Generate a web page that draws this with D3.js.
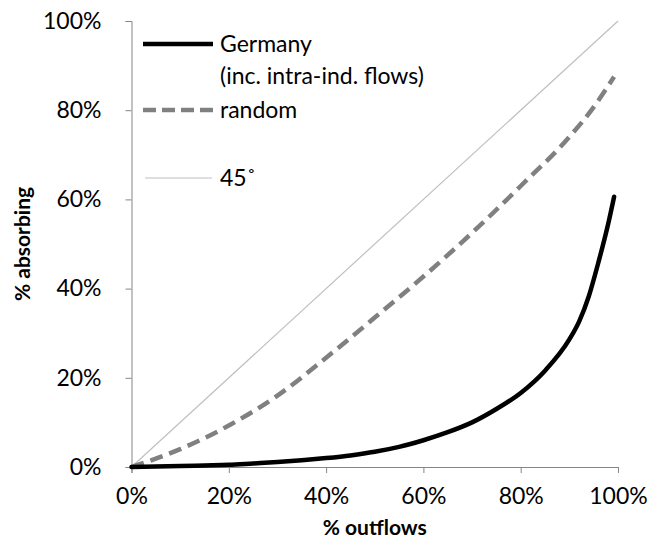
<!DOCTYPE html>
<html>
<head>
<meta charset="utf-8">
<script src="https://cdn.jsdelivr.net/npm/d3@7"></script>
<style>
  body { margin: 0; background: #fff; }
  text { font-family: Lato, "Open Sans", sans-serif; fill: #000; }
</style>
</head>
<body>
<div id="chart"></div>
<script>
// 曲線のデータ
const xGermany = [0, 5, 10, 15, 20, 25, 30, 35, 40, 45, 50, 55, 60, 65, 70, 75, 80, 85, 90, 92, 94, 96, 98, 99.2];
const yGermany = [0, 0.1, 0.2, 0.35, 0.5, 0.8, 1.1, 1.5, 2.0, 2.6, 3.4, 4.5, 6.0, 7.8, 10.0, 13.0, 16.6, 21.6, 28.6, 32.6, 38.3, 46, 54.6, 60.6];
const xRandom = [0, 10, 20, 30, 40, 50, 60, 70, 80, 90, 95, 99.2];
const yRandom = [0, 4, 9.3, 16, 24.5, 33.5, 42.7, 52.5, 63, 74, 80.7, 87.5];
const diagonal = [0, 100];
const tickValues = [0, 20, 40, 60, 80, 100];
const legendLabels = ['Germany', '(inc. intra-ind. flows)', 'random', '45˚'];

const width = 650, height = 544;
const margin = { top: 21, right: 32, bottom: 77, left: 131.5 };
const fontSize = '23px';

const svg = d3.select('#chart').append('svg')
    .attr('width', width)
    .attr('height', height);

const x = d3.scaleLinear().domain([0, 100]).range([margin.left, width - margin.right]);
const y = d3.scaleLinear().domain([0, 100]).range([height - margin.bottom, margin.top]);

const fmt = d => d + '%';

// 軸
const xAxis = svg.append('g')
    .attr('transform', `translate(0,${y(0)})`)
    .call(d3.axisBottom(x).tickValues(tickValues).tickFormat(fmt).tickSizeOuter(0).tickSize(6).tickPadding(15));
const yAxis = svg.append('g')
    .attr('transform', `translate(${x(0)},0)`)
    .call(d3.axisLeft(y).tickValues(tickValues).tickFormat(fmt).tickSizeOuter(0).tickSize(6).tickPadding(24));

[xAxis, yAxis].forEach(a => {
    a.select('.domain').attr('stroke', '#868686');
    a.selectAll('.tick line').attr('stroke', '#868686');
    a.selectAll('.tick text').style('font-size', fontSize).attr('fill', '#000');
});

// 45度線
const line = d3.line().x(d => x(d[0])).y(d => y(d[1]));
svg.append('path')
    .datum(diagonal.map(v => [v, v]))
    .attr('d', line)
    .attr('fill', 'none')
    .attr('stroke', '#bfbfbf')
    .attr('stroke-width', 1.2);

const smooth = d3.line().x(d => x(d[0])).y(d => y(d[1])).curve(d3.curveMonotoneX);

svg.append('path')
    .datum(xRandom.map((v, i) => [v, yRandom[i]]))
    .attr('d', smooth)
    .attr('fill', 'none')
    .attr('stroke', '#808080')
    .attr('stroke-width', 4.5)
    .attr('stroke-dasharray', '13,7');

svg.append('path')
    .datum(xGermany.map((v, i) => [v, yGermany[i]]))
    .attr('d', smooth)
    .attr('fill', 'none')
    .attr('stroke', '#000')
    .attr('stroke-width', 4.5)
    .attr('stroke-linecap', 'round');

// 凡例
const legend = svg.append('g');
legend.append('line').attr('x1', 143).attr('x2', 213).attr('y1', 44).attr('y2', 44)
    .attr('stroke', '#000').attr('stroke-width', 4.5);
legend.append('text').attr('x', 220).attr('y', 52).style('font-size', fontSize).text(legendLabels[0]);
legend.append('text').attr('x', 220).attr('y', 84).style('font-size', fontSize).text(legendLabels[1]);
legend.append('line').attr('x1', 143).attr('x2', 213).attr('y1', 110).attr('y2', 110)
    .attr('stroke', '#808080').attr('stroke-width', 4.5).attr('stroke-dasharray', '13,6');
legend.append('text').attr('x', 220).attr('y', 118).style('font-size', fontSize).text(legendLabels[2]);
legend.append('line').attr('x1', 145).attr('x2', 212).attr('y1', 178).attr('y2', 178)
    .attr('stroke', '#bfbfbf').attr('stroke-width', 1.2);
legend.append('text').attr('x', 220).attr('y', 186).style('font-size', fontSize).text(legendLabels[3]);

// 軸タイトル
svg.append('text')
    .attr('x', x(50))
    .attr('y', 535)
    .attr('text-anchor', 'middle')
    .style('font-size', '21px')
    .style('font-weight', 'bold')
    .text('% outflows');

svg.append('text')
    .attr('transform', `translate(30,${y(50)}) rotate(-90)`)
    .attr('text-anchor', 'middle')
    .style('font-size', '21px')
    .style('font-weight', 'bold')
    .text('% absorbing');
</script>
</body>
</html>
